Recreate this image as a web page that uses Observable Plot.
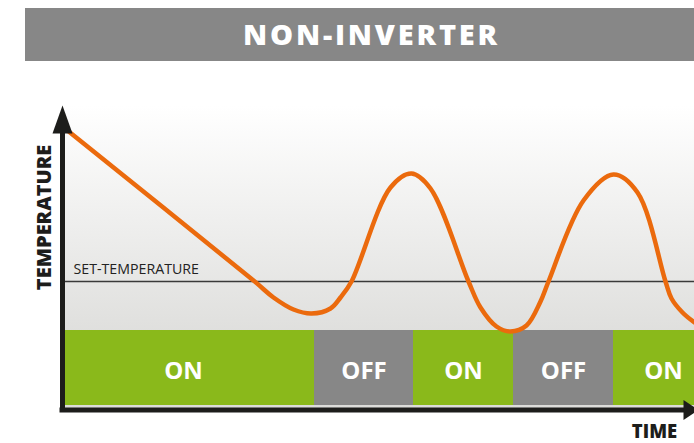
<!DOCTYPE html>
<html>
<head>
<meta charset="utf-8">
<script src="https://cdn.jsdelivr.net/npm/d3@7"></script>
<script src="https://cdn.jsdelivr.net/npm/@observablehq/plot@0.6"></script>
<style>
  html, body { margin: 0; padding: 0; background: #fff; width: 694px; height: 443px; overflow: hidden; }
  #title {
    margin: 8px 0 0 25px; width: 669px; height: 53px; box-sizing: border-box;
    padding-left: 24px; background: #878787; color: #fff; text-align: center;
    font: 800 29px/52px "Open Sans", sans-serif; letter-spacing: 2.8px;
  }
  #chart svg { display: block; }
</style>
</head>
<body>
<svg width="0" height="0" style="position:absolute">
  <defs>
    <linearGradient id="bg" x1="0" y1="0" x2="0" y2="1">
      <stop offset="0" stop-color="#ffffff"/>
      <stop offset="0.75" stop-color="#dfdfdd"/>
      <stop offset="1" stop-color="#dcdcda"/>
    </linearGradient>
  </defs>
</svg>
<div id="title">NON-INVERTER</div>
<div id="chart"></div>
<script>
// Temperature curve (time units, temperature units)
const curveTime = [0.3, 18.9, 20.9, 22.9, 24.7, 26.6, 27.6, 28.7, 32.6, 34.7, 36.6, 40.4, 41.6, 43.2, 44.6, 46.2, 47.6, 48.4, 51.9, 54.9, 57.3, 60.1, 60.7, 61.8, 63.0];
const curveTemp = [27.8, 12.8, 11.1, 9.9, 9.5, 10.0, 11.1, 12.7, 22.1, 23.5, 22.0, 12.7, 10.1, 8.2, 7.7, 8.3, 10.7, 12.7, 20.8, 23.4, 21.6, 12.7, 11.0, 9.6, 8.6];
const setTemperature = 12.7;
const setLabel = "SET-TEMPERATURE";

// Compressor state segments
const segStart = [-1.2, 25, 34.9, 44.9, 54.9];
const segEnd   = [25, 34.9, 44.9, 54.9, 64.9];
const segState = ["ON", "OFF", "ON", "OFF", "ON"];

const titleText = "NON-INVERTER";
const yLabel = "TEMPERATURE";
const xLabel = "TIME";

const curve = curveTime.map((t, i) => ({t, T: curveTemp[i]}));
const segments = segState.map((s, i) => ({state: s, start: segStart[i], end: segEnd[i], mid: (segStart[i] + segEnd[i]) / 2}));

const dark = "#1d1d1b";
const green = "#8ab91b";
const grey = "#878787";
const orange = "#eb6a0d";

const upHead = {draw(ctx) { ctx.moveTo(0, 0); ctx.lineTo(10, 28); ctx.lineTo(-10, 28); ctx.closePath(); }};
const rightHead = {draw(ctx) { ctx.moveTo(4, 0); ctx.lineTo(-11, -10); ctx.lineTo(-11, 10); ctx.closePath(); }};

document.getElementById("title").textContent = titleText;

const chart = Plot.plot({
  width: 694,
  height: 382,
  marginTop: 44,
  marginBottom: 34,
  marginLeft: 62,
  marginRight: 0,
  style: {fontFamily: "'Open Sans', sans-serif", background: "transparent"},
  x: {domain: [-0.2, 63], axis: null},
  y: {domain: [-0.1, 30.3], axis: null},
  marks: [
    Plot.frame({fill: "url(#bg)", stroke: "none"}),
    Plot.ruleY([setTemperature], {stroke: "#3a3a3a", strokeWidth: 1.3}),
    Plot.text([setLabel], {x: 0.9, y: setTemperature, text: d => d, textAnchor: "start", lineAnchor: "bottom", dy: -8, fontSize: 14.2, fill: "#222"}),
    Plot.rect(segments, {x1: "start", x2: "end", y1: 0.3, y2: 7.8, fill: d => d.state === "ON" ? green : grey, clip: true}),
    Plot.text(segments, {x: "mid", y: 3.7, text: "state", fill: "#fff", fontSize: 24, fontWeight: 700, clip: true}),
    Plot.line(curve, {x: "t", y: "T", curve: "catmull-rom", stroke: orange, strokeWidth: 4.5, strokeLinejoin: "round"}),
    Plot.ruleX([-0.2], {y1: -0.35, y2: 27.5, stroke: dark, strokeWidth: 5}),
    Plot.ruleY([-0.15], {x1: -0.45, x2: 62, stroke: dark, strokeWidth: 5}),
    Plot.dot([0], {x: -0.2, y: 30.3, symbol: upHead, fill: dark, r: 5}),
    Plot.dot([0], {x: 63, y: -0.15, symbol: rightHead, fill: dark, r: 5}),
    Plot.text([yLabel], {x: -2.0, y: 19.1, text: d => d, rotate: -90, fontSize: 20, fontWeight: 800, fill: dark}),
    Plot.text([xLabel], {frameAnchor: "bottom-right", text: d => d, dx: -40, dy: 28, fontSize: 18.5, fontWeight: 800, fill: dark, textAnchor: "middle"})
  ]
});
document.getElementById("chart").appendChild(chart);
</script>
</body>
</html>
